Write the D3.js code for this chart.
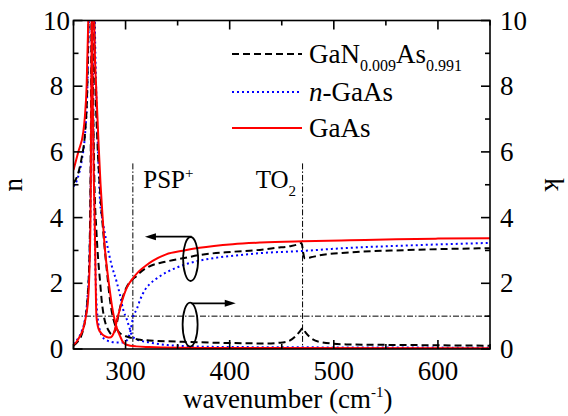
<!DOCTYPE html>
<html><head><meta charset="utf-8">
<script src="https://cdn.jsdelivr.net/npm/d3@7"></script>
</head>
<body style="margin:0"><svg id="chart" width="568" height="416"></svg>
<script>
// ---------- data (wavenumber cm^-1, value) ----------
const xTicks = [300, 400, 500, 600];
const yTicks = [0, 2, 4, 6, 8, 10];

const gaasN = [[250,5.45],[254.6,6.0],[259.4,6.6],[261,7.1],[262.6,8.0],[264.2,10.0],[265.5,12.5],[266.5,13.2],[267.5,11.5],[268.5,7.5],[269.5,5.2],[270.6,3.5],[271.3,2.0],[272,1.0],[274,0.62],[277,0.47],[280,0.39],[283.4,0.35],[286,0.36],[288,0.44],[290,0.62],[291.5,0.85],[294,1.15],[297,1.5],[300,1.78],[303,1.97],[307,2.15],[313,2.37],[320,2.55],[326,2.68],[339,2.88],[355,2.99],[371,3.08],[403,3.19],[430,3.24],[470,3.28],[515,3.31],[560,3.34],[600,3.36],[650,3.37]];
const gaasK = [[250,0.12],[253,0.22],[256,0.38],[259.4,0.62],[262,1.0],[264.2,1.6],[265.5,2.6],[266.5,4.5],[267.3,9],[268,14],[269,13],[270,9.7],[272,7.8],[274,6.3],[276,5.0],[278,4.0],[280,3.1],[282,2.5],[285,1.75],[287,1.3],[289.8,0.85],[292,0.6],[294.6,0.4],[297.7,0.2],[301,0.13],[310,0.08],[323,0.06],[350,0.04],[400,0.03],[650,0.02]];

const ganN = [[250,5.05],[254,5.3],[258,5.85],[261,6.55],[263,7.7],[264.5,10.0],[266,13],[267,13],[268,10.5],[269,7.2],[270,5.2],[272,3.6],[274,2.6],[275.4,2.1],[277,1.5],[278.6,1.1],[281,0.75],[283.4,0.58],[286.6,0.45],[289,0.5],[291,0.7],[293,1.0],[295,1.3],[297.7,1.62],[301,1.88],[304,2.03],[307,2.13],[310.6,2.22],[314,2.33],[322,2.5],[339,2.66],[355,2.76],[371,2.86],[403,2.96],[426,3.01],[445,3.08],[458,3.13],[465,3.18],[469,3.23],[470.5,2.95],[472,2.76],[478,2.79],[486,2.85],[515,2.94],[568,3.01],[650,3.07]];
const ganK = [[250,0.1],[254,0.22],[258,0.45],[261,0.85],[263.5,1.55],[265.5,3.1],[266.5,5.8],[267.5,11],[268.3,13],[269.3,11.5],[270.5,8.8],[273,6.3],[276,4.6],[279,3.4],[282,2.4],[285,1.5],[288,0.95],[291,0.65],[294,0.5],[298,0.42],[304,0.35],[314,0.28],[323,0.26],[355,0.22],[403,0.18],[435,0.17],[451,0.2],[458,0.26],[463,0.38],[467,0.52],[470,0.63],[473,0.5],[477,0.36],[486,0.22],[512,0.14],[575,0.12],[650,0.1]];

const nGaasN = [[250,4.95],[254,5.2],[258,5.75],[261,6.5],[263,7.6],[264.8,10.0],[266.5,12.5],[267.5,12],[268.5,9],[269.5,5.5],[271,2.5],[273,1.0],[276,0.5],[280,0.3],[290,0.2],[298,0.2],[302,0.3],[305,0.6],[307.3,0.98],[310.6,1.2],[314,1.5],[318.6,1.8],[323,1.97],[330,2.15],[339,2.33],[355,2.55],[387,2.78],[410,2.86],[430,2.92],[467,2.98],[515,3.08],[570,3.15],[650,3.23]];
const nGaasK = [[250,0.15],[254,0.3],[258,0.55],[261,0.9],[263.5,1.6],[265.5,3.0],[266.8,6],[267.8,11],[268.5,13],[269.5,12],[271,9],[273,6.6],[275.5,4.5],[278,3.9],[281.8,3.25],[286.6,2.55],[291.4,2.05],[294.6,1.65],[297.7,1.2],[301,0.92],[304,0.62],[306,0.42],[310,0.3],[323,0.2],[340,0.12],[355,0.09],[400,0.06],[650,0.04]];

// ---------- layout ----------
const W = 568, H = 416;
const m = {left:73.5, right:78, top:20.5, bottom:67};
const svg = d3.select("#chart");
const x = d3.scaleLinear().domain([250,650]).range([m.left, W - m.right]);
const y = d3.scaleLinear().domain([0,10]).range([H - m.bottom, m.top]);
const FS = 27;
function txt(size){
  return svg.append("text").attr("font-size", size).style("font-family","'Liberation Serif'");
}

svg.append("defs").append("clipPath").attr("id","clip")
  .append("rect").attr("x",x(250)).attr("y",y(10)).attr("width",x(650)-x(250)).attr("height",y(0)-y(10));

// reference lines
const refG = svg.append("g").attr("stroke","#000").attr("stroke-width",1).attr("stroke-dasharray","6,2,1.5,2").attr("fill","none");
refG.append("line").attr("x1",x(250)).attr("x2",x(650)).attr("y1",y(1)).attr("y2",y(1));
[307, 470].forEach(v => refG.append("line").attr("x1",x(v)).attr("x2",x(v)).attr("y1",y(5.65)).attr("y2",y(0)));

// curves
const line = d3.line().x(d => x(d[0])).y(d => y(d[1])).curve(d3.curveMonotoneX);
const cg = svg.append("g").attr("clip-path","url(#clip)").attr("fill","none");
const styles = {
  gan:{stroke:"#000", dash:"7,4", w:2},
  ngaas:{stroke:"#0000ff", dash:"2,3", w:2},
  gaas:{stroke:"#ff0000", dash:null, w:2}
};
function draw(data, s){
  cg.append("path").datum(data).attr("d",line).attr("stroke",s.stroke).attr("stroke-width",s.w)
    .attr("stroke-dasharray",s.dash);
}
draw(nGaasN, styles.ngaas); draw(nGaasK, styles.ngaas);
draw(ganN, styles.gan); draw(ganK, styles.gan);
draw(gaasN, styles.gaas); draw(gaasK, styles.gaas);

// axes (ticks inward)
const fg = svg.append("g").attr("stroke","#000").attr("stroke-width",1.6);
fg.append("rect").attr("x",x(250)).attr("y",y(10)).attr("width",x(650)-x(250)).attr("height",y(0)-y(10)).attr("fill","none");
for(let v=250; v<=650; v+=50){
  const L = v % 100 === 0 ? 9 : 5;
  fg.append("line").attr("x1",x(v)).attr("x2",x(v)).attr("y1",y(0)).attr("y2",y(0)-L);
  fg.append("line").attr("x1",x(v)).attr("x2",x(v)).attr("y1",y(10)).attr("y2",y(10)+L);
}
for(let v=0; v<=10; v+=1){
  const L = v % 2 === 0 ? 9 : 5;
  fg.append("line").attr("x1",x(250)).attr("x2",x(250)+L).attr("y1",y(v)).attr("y2",y(v));
  fg.append("line").attr("x1",x(650)).attr("x2",x(650)-L).attr("y1",y(v)).attr("y2",y(v));
}

// tick labels
xTicks.forEach(v => txt(FS).attr("x",x(v)).attr("y",y(0)+31).attr("text-anchor","middle").text(v));
yTicks.forEach(v => {
  txt(FS).attr("x",x(250)-17).attr("y",y(v)+9).attr("text-anchor","middle").text(v);
  txt(FS).attr("x",x(650)+10).attr("y",y(v)+9).attr("text-anchor","start").text(v);
});

// axis titles
const xt = txt(FS).attr("x",(x(250)+x(650))/2+6).attr("y",408).attr("text-anchor","middle");
xt.append("tspan").text("wavenumber (cm");
xt.append("tspan").attr("font-size",15).attr("dy",-11).text("-1");
xt.append("tspan").attr("dy",11).text(")");
txt(FS).attr("transform",`translate(22,${(y(0)+y(10))/2}) rotate(-90)`).attr("text-anchor","middle").text("n");
txt(FS).attr("transform",`translate(545,${(y(0)+y(10))/2}) rotate(90)`).attr("text-anchor","middle").text("k");

// annotations
const psp = txt(25).attr("x",x(317)).attr("y",y(4.9));
psp.append("tspan").text("PSP"); psp.append("tspan").attr("font-size",15).attr("dy",-10).text("+");
const to2 = txt(25).attr("x",x(425)).attr("y",y(4.9));
to2.append("tspan").text("TO"); to2.append("tspan").attr("font-size",15).attr("dy",8).text("2");

// ellipses + arrows
const ells = [
  {cx:362.5, cy:2.74, tipX:318.6, arrowY:3.42},
  {cx:362.0, cy:0.745, tipX:405.8, arrowY:1.39}
];
const ag = svg.append("g").attr("stroke","#000").attr("stroke-width",1.8).attr("fill","none");
ells.forEach(e => {
  ag.append("ellipse").attr("cx",x(e.cx)).attr("cy",y(e.cy)).attr("rx",7.5).attr("ry",22);
  const dir = e.tipX < e.cx ? -1 : 1;
  const xs = x(e.cx) + 1, xe = x(e.tipX), yy = y(e.arrowY);
  ag.append("line").attr("x1",xs).attr("x2",xe - dir*8).attr("y1",yy).attr("y2",yy);
  svg.append("path").attr("d",`M${xe},${yy} L${xe - dir*11},${yy-3.5} L${xe - dir*11},${yy+3.5} Z`).attr("fill","#000");
});

// legend
const rows = [
  {s:styles.gan, y:54},
  {s:styles.ngaas, y:92},
  {s:styles.gaas, y:128}
];
rows.forEach((r,i) => {
  svg.append("line").attr("x1",232).attr("x2",302).attr("y1",r.y).attr("y2",r.y)
    .attr("stroke",r.s.stroke).attr("stroke-width",r.s.w).attr("stroke-dasharray",r.s.dash);
  const t = txt(27).attr("x",309).attr("y",r.y+9);
  if(i===0){
    t.append("tspan").text("GaN");
    t.append("tspan").attr("font-size",16).attr("dy",8).text("0.009");
    t.append("tspan").attr("dy",-8).text("As");
    t.append("tspan").attr("font-size",16).attr("dy",8).text("0.991");
  } else if(i===1){
    t.append("tspan").attr("font-style","italic").text("n");
    t.append("tspan").text("-GaAs");
  } else t.text("GaAs");
});
</script></body></html>
